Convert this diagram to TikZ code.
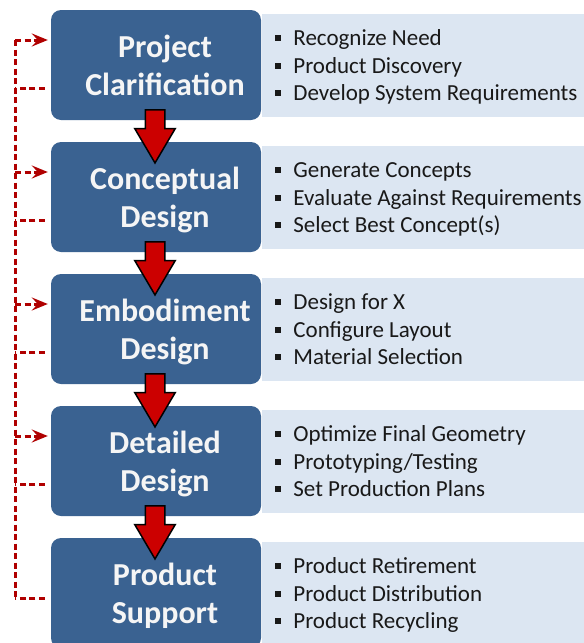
\documentclass[tikz,border=0pt]{standalone}
\usepackage{fontspec}
\setmainfont{Carlito}
\usetikzlibrary{positioning,shapes.arrows,arrows.meta}

\definecolor{stageblue}{RGB}{58,98,145}
\definecolor{listblue}{RGB}{220,230,242}
\definecolor{titlewhite}{RGB}{245,245,245}
\definecolor{loopred}{RGB}{176,0,0}
\definecolor{flowred}{RGB}{204,0,0}

\newcommand{\itm}[1]{\raisebox{4.5pt}{\rule{6pt}{6pt}}\hspace{12pt}#1\strut}

\tikzset{
  stage/.style={fill=stageblue, rounded corners=10pt, minimum width=210pt,
    minimum height=110pt, inner sep=0pt},
  stagetitle/.style={text=titlewhite, font=\bfseries\fontsize{32}{38}\selectfont,
    align=center, inner sep=0pt, yshift=-3.4pt},
  list/.style={fill=listblue, minimum width=340pt, minimum height=103pt,
    inner sep=0pt},
  listtext/.style={text=black!90, font=\fontsize{23}{27.6}\selectfont,
    align=left, inner sep=0pt, yshift=-2.6pt},
  flowarrow/.style={single arrow, fill=flowred, draw=black, line width=1.5pt,
    rotate=-90, anchor=tail, minimum height=53pt, minimum width=39pt,
    single arrow head extend=10.5pt, single arrow tip angle=61,
    inner xsep=0pt, inner ysep=9pt},
  feedback/.style={draw=loopred, line width=3pt, dash pattern=on 6pt off 3.5pt}
}

\begin{document}
\begin{tikzpicture}[x=1pt,y=-1pt]
  \clip (0,0) rectangle (584,643);
  % stages
  \node[stage] (s1) at (156,65) {};
  \node[stage] (s2) at (156,197) {};
  \node[stage] (s3) at (156,329) {};
  \node[stage] (s4) at (156,461) {};
  \node[stage] (s5) at (156,593) {};
  \node[stagetitle] (t1) at ([xshift=9pt]s1.center) {Project\strut\\Clarification\strut};
  \node[stagetitle] (t2) at ([xshift=9pt]s2.center) {Conceptual\strut\\Design\strut};
  \node[stagetitle] (t3) at ([xshift=9pt]s3.center) {Embodiment\strut\\Design\strut};
  \node[stagetitle] (t4) at ([xshift=9pt]s4.center) {Detailed\strut\\Design\strut};
  \node[stagetitle] (t5) at ([xshift=9pt]s5.center) {Product\strut\\Support\strut};
  % activity lists
  \foreach \i in {1,...,5}
    \node[list, right=1pt of s\i] (l\i) {};
  \node[listtext, right=13pt of l1.west] (b1)
    {\itm{Recognize Need}\\\itm{Product Discovery}\\\itm{Develop System Requirements}};
  \node[listtext, right=13pt of l2.west] (b2)
    {\itm{Generate Concepts}\\\itm{Evaluate Against Requirements}\\\itm{Select Best Concept(s)}};
  \node[listtext, right=13pt of l3.west] (b3)
    {\itm{Design for X}\\\itm{Configure Layout}\\\itm{Material Selection}};
  \node[listtext, right=13pt of l4.west] (b4)
    {\itm{Optimize Final Geometry}\\\itm{Prototyping/Testing}\\\itm{Set Production Plans}};
  \node[listtext, right=13pt of l5.west] (b5)
    {\itm{Product Retirement}\\\itm{Product Distribution}\\\itm{Product Recycling}};
  % flow arrows
  \foreach \i in {1,...,4}
    \node[flowarrow] (a\i) at ([xshift=-1pt,yshift=11pt]s\i.south) {};
  % feedback loop
  \coordinate (bus) at (15,0);
  \foreach \i in {1,...,4}
    {
      \coordinate (in\i) at ([xshift=-3pt,yshift=25pt]s\i.west);
      \coordinate (out\i) at ([xshift=-6pt,yshift=-23pt]s\i.west);
    }
  \coordinate (out5) at ([xshift=-6pt,yshift=-5pt]s5.west);
  \draw[feedback] (bus |- in1) -- (bus |- out5);
  \foreach \i in {1,...,4}
    \draw[feedback, -{Stealth[length=16pt,width=13pt,inset=6pt]}] (bus |- in\i) -- (in\i);
  \foreach \i in {1,...,5}
    \draw[feedback] (out\i) -- (bus |- out\i);
\end{tikzpicture}
\end{document}
